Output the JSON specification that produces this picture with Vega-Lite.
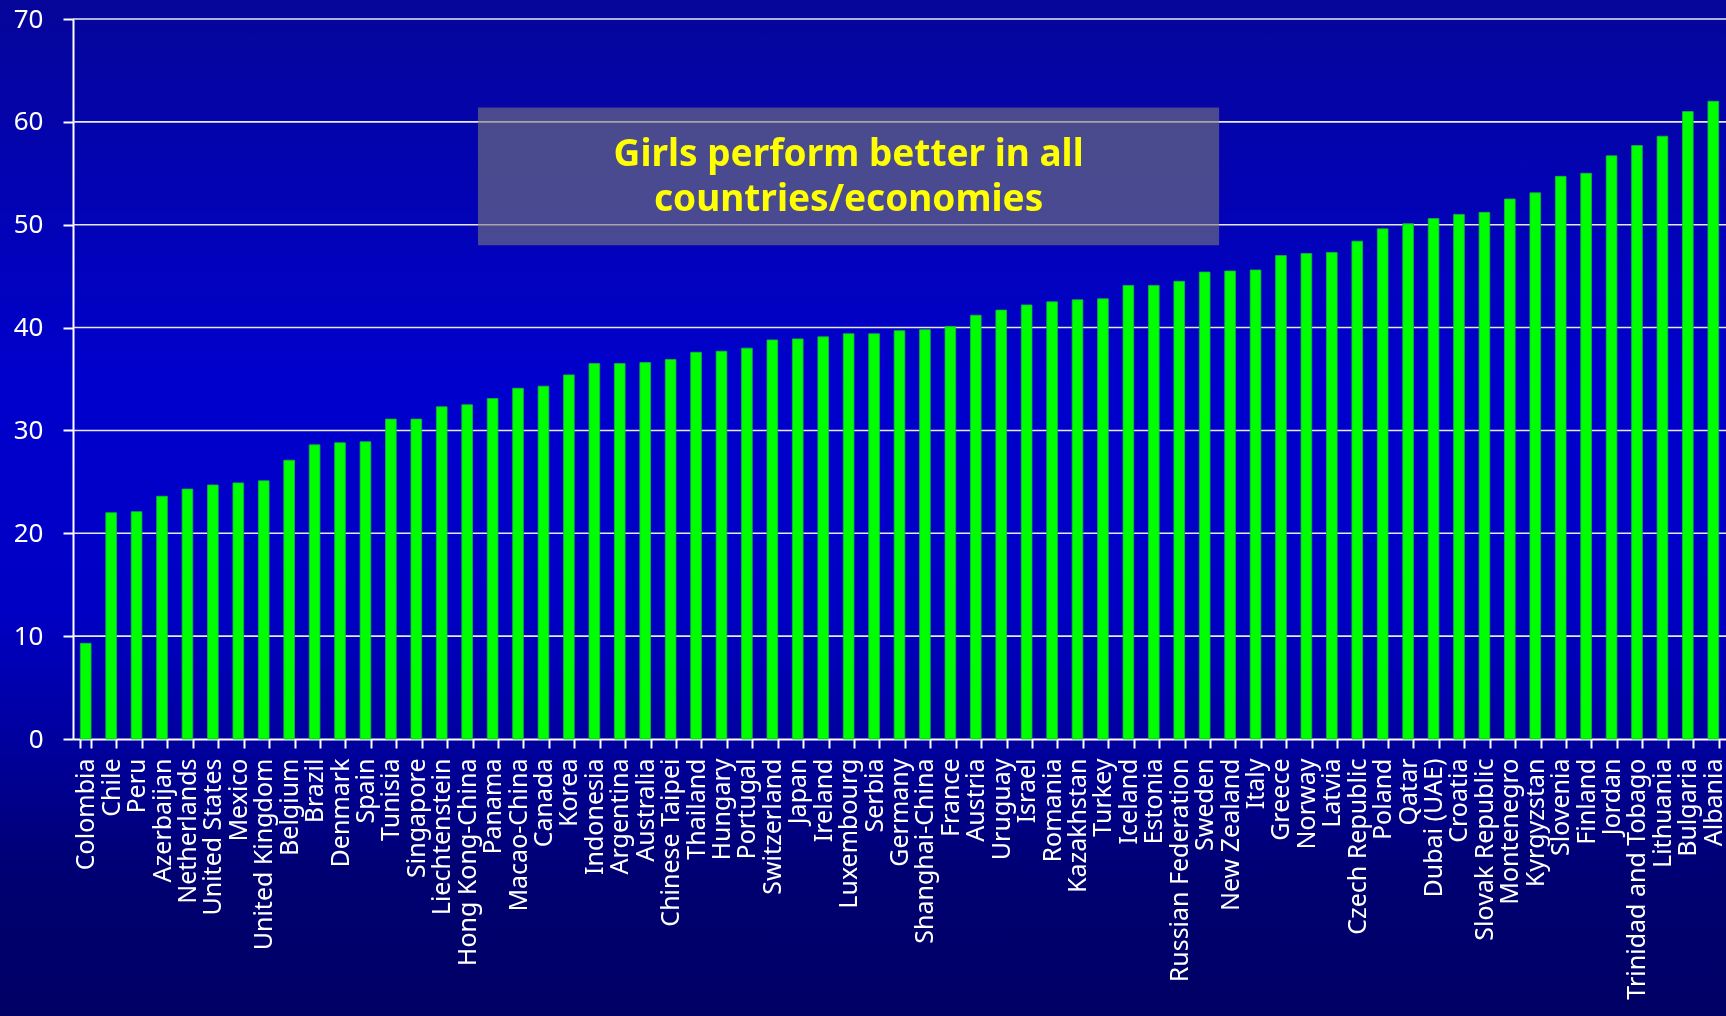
{
  "$schema": "https://vega.github.io/schema/vega-lite/v6.json",
  "width": 1653,
  "height": 720,
  "autosize": {"type": "none"},
  "padding": {"left": 73, "top": 19, "right": 0, "bottom": 277},
  "background": "#000000",
  "config": {
    "view": {"stroke": null},
    "axis": {
      "title": null,
      "zindex": 1,
      "grid": false,
      "labelFont": "Noto Sans",
      "labelColor": "white",
      "tickWidth": 2,
      "tickColor": "white",
      "domainColor": "white",
      "domainWidth": 2
    }
  },
  "datasets": {
    "gap": [
      {"country": "Colombia", "gap": 9.3},
      {"country": "Chile", "gap": 22.0},
      {"country": "Peru", "gap": 22.1},
      {"country": "Azerbaijan", "gap": 23.6},
      {"country": "Netherlands", "gap": 24.3},
      {"country": "United States", "gap": 24.7},
      {"country": "Mexico", "gap": 24.9},
      {"country": "United Kingdom", "gap": 25.1},
      {"country": "Belgium", "gap": 27.1},
      {"country": "Brazil", "gap": 28.6},
      {"country": "Denmark", "gap": 28.8},
      {"country": "Spain", "gap": 28.9},
      {"country": "Tunisia", "gap": 31.1},
      {"country": "Singapore", "gap": 31.1},
      {"country": "Liechtenstein", "gap": 32.3},
      {"country": "Hong Kong-China", "gap": 32.5},
      {"country": "Panama", "gap": 33.1},
      {"country": "Macao-China", "gap": 34.1},
      {"country": "Canada", "gap": 34.3},
      {"country": "Korea", "gap": 35.4},
      {"country": "Indonesia", "gap": 36.5},
      {"country": "Argentina", "gap": 36.5},
      {"country": "Australia", "gap": 36.6},
      {"country": "Chinese Taipei", "gap": 36.9},
      {"country": "Thailand", "gap": 37.6},
      {"country": "Hungary", "gap": 37.7},
      {"country": "Portugal", "gap": 38.0},
      {"country": "Switzerland", "gap": 38.8},
      {"country": "Japan", "gap": 38.9},
      {"country": "Ireland", "gap": 39.1},
      {"country": "Luxembourg", "gap": 39.4},
      {"country": "Serbia", "gap": 39.4},
      {"country": "Germany", "gap": 39.7},
      {"country": "Shanghai-China", "gap": 39.8},
      {"country": "France", "gap": 40.1},
      {"country": "Austria", "gap": 41.2},
      {"country": "Uruguay", "gap": 41.7},
      {"country": "Israel", "gap": 42.2},
      {"country": "Romania", "gap": 42.5},
      {"country": "Kazakhstan", "gap": 42.7},
      {"country": "Turkey", "gap": 42.8},
      {"country": "Iceland", "gap": 44.1},
      {"country": "Estonia", "gap": 44.1},
      {"country": "Russian Federation", "gap": 44.5},
      {"country": "Sweden", "gap": 45.4},
      {"country": "New Zealand", "gap": 45.5},
      {"country": "Italy", "gap": 45.6},
      {"country": "Greece", "gap": 47.0},
      {"country": "Norway", "gap": 47.2},
      {"country": "Latvia", "gap": 47.3},
      {"country": "Czech Republic", "gap": 48.4},
      {"country": "Poland", "gap": 49.6},
      {"country": "Qatar", "gap": 50.1},
      {"country": "Dubai (UAE)", "gap": 50.6},
      {"country": "Croatia", "gap": 51.0},
      {"country": "Slovak Republic", "gap": 51.2},
      {"country": "Montenegro", "gap": 52.5},
      {"country": "Kyrgyzstan", "gap": 53.1},
      {"country": "Slovenia", "gap": 54.7},
      {"country": "Finland", "gap": 55.0},
      {"country": "Jordan", "gap": 56.7},
      {"country": "Trinidad and Tobago", "gap": 57.7},
      {"country": "Lithuania", "gap": 58.6},
      {"country": "Bulgaria", "gap": 61.0},
      {"country": "Albania", "gap": 62.0}
    ],
    "gridlines": [
      {"tick": 10}, {"tick": 20}, {"tick": 30}, {"tick": 40},
      {"tick": 50}, {"tick": 60}, {"tick": 70}
    ]
  },
  "layer": [
    {
      "data": {"values": [{}]},
      "mark": {
        "type": "rect",
        "clip": false,
        "blend": "screen",
        "fill": {
          "gradient": "linear",
          "x1": 0, "y1": 0, "x2": 0, "y2": 1,
          "stops": [
            {"offset": 0, "color": "#06069a"},
            {"offset": 0.38, "color": "#0000cd"},
            {"offset": 0.6, "color": "#0000c4"},
            {"offset": 0.73, "color": "#00009e"},
            {"offset": 0.86, "color": "#000072"},
            {"offset": 1, "color": "#000064"}
          ]
        }
      },
      "encoding": {
        "x": {"datum": "Colombia", "bandPosition": -8},
        "x2": {"datum": "Albania", "bandPosition": 2},
        "y": {"datum": 72, "type": "quantitative"},
        "y2": {"datum": -27}
      }
    },
    {
      "data": {"name": "gridlines"},
      "mark": {"type": "rule", "stroke": "#e8e8f2", "strokeWidth": 1.6},
      "encoding": {
        "y": {"field": "tick", "type": "quantitative"}
      }
    },
    {
      "data": {"name": "gap"},
      "mark": {"type": "bar", "fill": "#00ff00", "stroke": "#18b838", "strokeWidth": 0.8},
      "encoding": {
        "x": {
          "field": "country",
          "type": "nominal",
          "sort": null,
          "scale": {
            "domain": ["Colombia", "Chile", "Peru", "Azerbaijan", "Netherlands", "United States", "Mexico", "United Kingdom", "Belgium", "Brazil", "Denmark", "Spain", "Tunisia", "Singapore", "Liechtenstein", "Hong Kong-China", "Panama", "Macao-China", "Canada", "Korea", "Indonesia", "Argentina", "Australia", "Chinese Taipei", "Thailand", "Hungary", "Portugal", "Switzerland", "Japan", "Ireland", "Luxembourg", "Serbia", "Germany", "Shanghai-China", "France", "Austria", "Uruguay", "Israel", "Romania", "Kazakhstan", "Turkey", "Iceland", "Estonia", "Russian Federation", "Sweden", "New Zealand", "Italy", "Greece", "Norway", "Latvia", "Czech Republic", "Poland", "Qatar", "Dubai (UAE)", "Croatia", "Slovak Republic", "Montenegro", "Kyrgyzstan", "Slovenia", "Finland", "Jordan", "Trinidad and Tobago", "Lithuania", "Bulgaria", "Albania"],
            "paddingInner": 0.58,
            "paddingOuter": 0.29
          },
          "axis": {
            "title": null,
            "labelAngle": 270,
            "labelAlign": "right",
            "labelBaseline": "middle",
            "labelFontSize": 25,
            "labelPadding": 10,
            "labelLimit": 400,
            "labelOverlap": false,
            "tickBand": "extent",
            "tickSize": 9
          }
        },
        "y": {
          "field": "gap",
          "type": "quantitative",
          "scale": {"domain": [0, 70], "nice": false},
          "axis": {
            "title": null,
            "values": [0, 10, 20, 30, 40, 50, 60, 70],
            "labelFontSize": 26,
            "labelPadding": 20,
            "tickSize": 10
          }
        }
      }
    },
    {
      "data": {"values": [{}]},
      "mark": {"type": "rect", "fill": "#7a7a7a", "opacity": 0.6},
      "encoding": {
        "x": {"datum": "Panama", "bandPosition": -0.87},
        "x2": {"datum": "New Zealand", "bandPosition": -0.53},
        "y": {"datum": 61.4, "type": "quantitative"},
        "y2": {"datum": 48.0}
      }
    },
    {
      "data": {"values": [{}]},
      "mark": {
        "type": "text",
        "font": "Noto Sans",
        "fontWeight": "bold",
        "fontSize": 37,
        "lineHeight": 45,
        "color": "#ffff00",
        "align": "center",
        "baseline": "middle"
      },
      "encoding": {
        "x": {"datum": "Luxembourg"},
        "y": {"datum": 56.8, "type": "quantitative"},
        "text": {"value": ["Girls perform better in all", "countries/economies"]}
      }
    }
  ]
}
